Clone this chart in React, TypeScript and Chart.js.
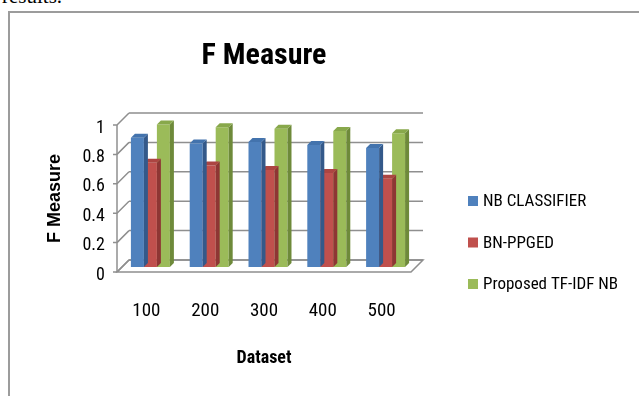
import React, { useEffect, useRef } from 'react';
import { Chart, registerables } from 'chart.js';

Chart.register(...registerables);

// ---- data ----
const categories = ['100', '200', '300', '400', '500'];
const nbClassifier = [0.88, 0.84, 0.85, 0.83, 0.81];
const bnPpged = [0.71, 0.69, 0.66, 0.64, 0.6];
const proposedTfIdfNb = [0.97, 0.95, 0.94, 0.925, 0.91];
const seriesNames = ['NB CLASSIFIER', 'BN-PPGED', 'Proposed TF-IDF NB'];
const yTickLabels = ['0', '0.2', '0.4', '0.6', '0.8', '1'];

// ---- styles / layout ----
const W = 639;
const H = 396;
const PLOT_LEFT = 117;
const PLOT_RIGHT = 411;
const PLOT_TOP = 125;
const PLOT_BOTTOM = 272;
const WALL = 12; // depth of the back wall
const BAR_DX = 4;
const BAR_DY = -5;
const BAR_DEPTH = 4;

const FONT = '"Roboto Condensed", "Noto Sans Condensed", "Open Sans Condensed", "Liberation Sans Narrow", "DejaVu Sans Condensed", sans-serif';
const FRONT = ['#4F81BD', '#C0504D', '#9BBB59'];
const SIDE = ['#34598A', '#8E3634', '#6E8A3A'];
const TOP = ['#4373AD', '#AC4542', '#88A84B'];
const GRID = '#8f8f8f';

const threeD = {
  id: 'threeD',
  beforeDatasetsDraw(chart: any) {
    const { ctx, chartArea, scales } = chart;
    const { left, right, bottom, top } = chartArea;
    const y = scales.y;
    ctx.save();
    ctx.strokeStyle = GRID;
    ctx.lineWidth = 1.5;
    // floor
    ctx.fillStyle = '#ffffff';
    ctx.beginPath();
    ctx.moveTo(left, bottom);
    ctx.lineTo(right, bottom);
    ctx.lineTo(right + WALL, bottom - WALL);
    ctx.lineTo(left + WALL, bottom - WALL);
    ctx.closePath();
    ctx.fill();
    ctx.stroke();
    // back wall gridlines + side wall diagonals + front ticks
    y.ticks.forEach((t: any) => {
      const py = y.getPixelForValue(t.value);
      ctx.beginPath();
      ctx.moveTo(left + WALL, py - WALL);
      ctx.lineTo(right + WALL, py - WALL);
      ctx.moveTo(left, py);
      ctx.lineTo(left + WALL, py - WALL);
      ctx.moveTo(left - 4, py);
      ctx.lineTo(left, py);
      ctx.stroke();
    });
    // front vertical axis
    ctx.beginPath();
    ctx.moveTo(left, top);
    ctx.lineTo(left, bottom);
    ctx.stroke();
    ctx.restore();

    ctx.save();
    ctx.translate(BAR_DX, BAR_DY);
  },
  afterDatasetDraw(chart: any, args: any) {
    const ctx = chart.ctx;
    const i = args.index;
    args.meta.data.forEach((bar: any) => {
      const { x, y, base, width } = bar.getProps(['x', 'y', 'base', 'width'], true);
      const x1 = x - width / 2;
      const x2 = x + width / 2;
      const d = BAR_DEPTH;
      ctx.fillStyle = SIDE[i];
      ctx.beginPath();
      ctx.moveTo(x2, y);
      ctx.lineTo(x2 + d, y - d);
      ctx.lineTo(x2 + d, base - d);
      ctx.lineTo(x2, base);
      ctx.closePath();
      ctx.fill();
      ctx.fillStyle = TOP[i];
      ctx.beginPath();
      ctx.moveTo(x1, y);
      ctx.lineTo(x1 + d, y - d);
      ctx.lineTo(x2 + d, y - d);
      ctx.lineTo(x2, y);
      ctx.closePath();
      ctx.fill();
    });
  },
  afterDatasetsDraw(chart: any) {
    chart.ctx.restore();
  },
  afterDraw(chart: any) {
    const ctx = chart.ctx;
    ctx.save();
    ctx.font = `17px ${FONT}`;
    ctx.textBaseline = 'middle';
    ctx.textAlign = 'left';
    chart.data.datasets.forEach((ds: any, i: number) => {
      const cy = 201 + i * 41.5;
      ctx.fillStyle = FRONT[i];
      ctx.fillRect(468, cy - 5, 10, 10);
      ctx.fillStyle = '#000';
      ctx.fillText(ds.label, 483, cy + 1);
    });
    ctx.restore();
  },
};

export default function App() {
  const ref = useRef<HTMLCanvasElement | null>(null);

  useEffect(() => {
    if (!ref.current) return;
    const series = [nbClassifier, bnPpged, proposedTfIdfNb];
    const titleSize = 30;
    const titleLH = titleSize * 1.2;
    const chart = new Chart(ref.current, {
      type: 'bar',
      data: {
        labels: categories,
        datasets: series.map((values, i) => ({
          label: seriesNames[i],
          data: values,
          backgroundColor: FRONT[i],
          borderWidth: 0,
          barPercentage: 1,
          categoryPercentage: 0.663,
        })),
      },
      plugins: [threeD],
      options: {
        responsive: false,
        maintainAspectRatio: false,
        devicePixelRatio: 1,
        animation: false,
        layout: { padding: { left: 0, right: W - PLOT_RIGHT, top: 0, bottom: 0 } },
        plugins: {
          legend: { display: false },
          tooltip: { enabled: false },
          title: {
            display: true,
            text: 'F Measure',
            fullSize: false,
            color: '#000',
            font: { family: FONT, size: titleSize, weight: 'bold', lineHeight: 1.2 },
            padding: { top: 56 - titleLH / 2, bottom: PLOT_TOP - (56 + titleLH / 2) },
          },
        },
        scales: {
          x: {
            grid: { display: false, drawTicks: false },
            border: { display: false },
            ticks: { padding: 28.3, color: '#000', font: { family: FONT, size: 19, lineHeight: 1.2 } },
            title: {
              display: true,
              text: 'Dataset',
              color: '#000',
              font: { family: FONT, size: 18, weight: 'bold', lineHeight: 1.2 },
              padding: { top: 0, bottom: 396 - 358 - 10.8 },
            },
            afterFit: (s: any) => {
              s.height = H - PLOT_BOTTOM;
            },
          },
          y: {
            min: 0,
            max: 1,
            grid: { display: false, drawTicks: false },
            border: { display: false },
            ticks: {
              stepSize: 0.2,
              padding: 12,
              labelOffset: 3,
              color: '#000',
              font: { family: FONT, size: 18 },
              callback: (_v: any, idx: number) => yTickLabels[idx],
            },
            title: {
              display: true,
              text: 'F Measure',
              color: '#000',
              font: { family: '"Liberation Sans", Arial, sans-serif', size: 18, weight: 'bold', lineHeight: 1.2 },
              padding: { top: 55 - 10.8, bottom: 0 },
            },
            afterFit: (s: any) => {
              s.width = PLOT_LEFT;
            },
          },
        },
      } as any,
    });
    return () => chart.destroy();
  }, []);

  return (
    <div style={{ position: 'fixed', left: 0, top: 0, width: W, height: H, overflow: 'hidden', background: '#fff' }}>
      <div
        style={{
          position: 'absolute',
          left: 2,
          top: -14.5,
          fontFamily: '"Liberation Serif", "Times New Roman", serif',
          fontSize: 21,
          lineHeight: '21px',
          color: '#000',
          whiteSpace: 'nowrap',
        }}
      >
        results.
      </div>
      <div
        style={{
          position: 'absolute',
          left: 8,
          top: 11,
          width: 700,
          height: 500,
          border: '2px solid #9c9c9c',
          boxSizing: 'border-box',
        }}
      />
      <canvas ref={ref} width={W} height={H} style={{ position: 'absolute', left: 0, top: 0, width: W, height: H }} />
    </div>
  );
}
